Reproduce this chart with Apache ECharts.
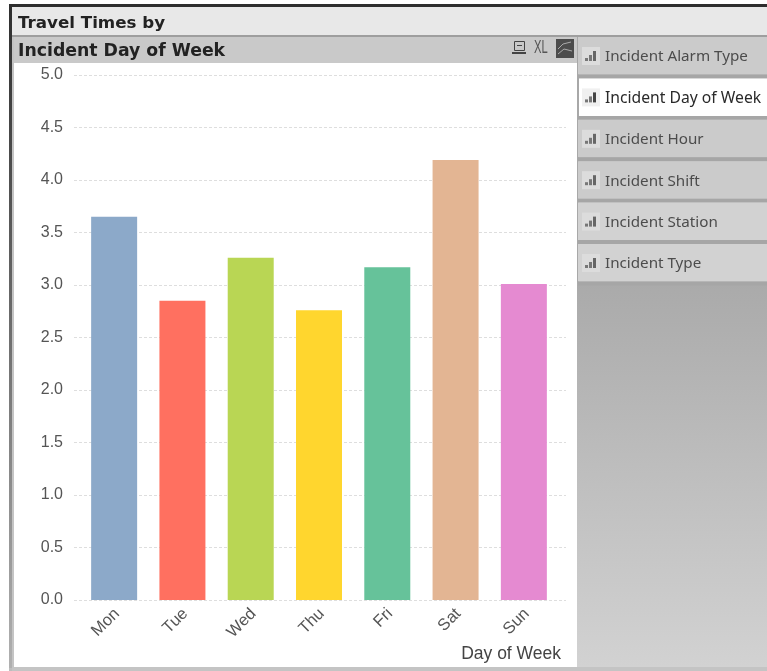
<!DOCTYPE html>
<html>
<head>
<meta charset="utf-8">
<style>html,body{margin:0;padding:0;background:#fff}#chart{width:767px;height:671px}</style>
<script src="https://cdn.jsdelivr.net/npm/echarts@6/dist/echarts.min.js"></script>
</head>
<body>
<div id="chart"></div>
<script>
// Travel times per weekday
const days = ['Mon', 'Tue', 'Wed', 'Thu', 'Fri', 'Sat', 'Sun'];
const travelTimes = [3.65, 2.85, 3.26, 2.76, 3.17, 4.19, 3.01];
const barColors = ['#8ca9c9', '#ff7060', '#b9d654', '#ffd62e', '#66c29a', '#e3b593', '#e58ad1'];
const tabNames = ['Incident Alarm Type', 'Incident Day of Week', 'Incident Hour', 'Incident Shift', 'Incident Station', 'Incident Type'];
const activeTab = 'Incident Day of Week';
const panelTitle = 'Travel Times by';
const chartTitle = 'Incident Day of Week';
const xAxisTitle = 'Day of Week';

const uiFont = '"Noto Sans", sans-serif';
const titleFont = '"DejaVu Sans", sans-serif';
const chartFont = '"Liberation Sans", sans-serif';

function rect(x, y, width, height, fill, z) {
  return { type: 'rect', silent: true, z: z || 0, shape: { x, y, width, height }, style: { fill } };
}
function vertical(top, bottom) {
  return { type: 'linear', x: 0, y: 0, x2: 0, y2: 1, colorStops: [{ offset: 0, color: top }, { offset: 1, color: bottom }] };
}
function label(text, x, y, fontSize, fontWeight, fill, fontFamily) {
  return { type: 'text', silent: true, z: 5, x, y, style: { text, fontSize, fontWeight, fill, fontFamily: fontFamily || uiFont, verticalAlign: 'middle' } };
}
// Small bar-chart glyph shown at the left of each selector tab
function tabIcon(x, cy, active) {
  const c = active ? '#444' : '#666';
  return [
    rect(x - 2, cy - 9, 18, 18, active ? '#f0f0f0' : '#dcdcdc', 3),
    rect(x + 1, cy + 2, 3, 3, '#777', 4),
    rect(x + 5, cy - 1, 3, 6, '#777', 4),
    rect(x + 9, cy - 5, 3, 10, c, 4)
  ];
}

const chrome = [
  rect(9, 4, 758, 667, '#bdbdbd'),
  { type: 'rect', silent: true, z: 1, shape: { x: 9, y: 4, width: 3, height: 664 }, style: { fill: vertical('#2e2e2e', '#b0b0b0') } },
  rect(9, 4, 758, 3, '#2e2e2e', 1),
  rect(12, 7, 755, 28, '#e8e8e8', 1),
  rect(12, 35, 755, 2, '#9e9e9e', 1),
  rect(12, 37, 2, 631, '#c4c4c4', 1),
  rect(14, 37, 563, 26, '#c9c9c9', 1),
  rect(14, 63, 563, 604, '#ffffff', 1),
  rect(12, 667, 755, 4, '#c4c4c4', 1),
  { type: 'rect', silent: true, z: 1, shape: { x: 577, y: 282, width: 190, height: 385 }, style: { fill: vertical('#aaaaaa', '#d2d2d2') } },
  rect(577, 37, 2, 245, '#a8a8a8', 1),
  label(panelTitle, 18, 24, 16.7, 'bold', '#222', titleFont),
  label(chartTitle, 18, 52, 17.3, 'bold', '#222', titleFont),
  // Toolbar: print, XL, chart toggle
  { type: 'rect', silent: true, z: 4, shape: { x: 514.5, y: 41.5, width: 10, height: 9 }, style: { fill: 'none', stroke: '#444', lineWidth: 1 } },
  rect(517, 45, 5, 1, '#444', 4),
  rect(512, 52, 14, 2, '#444', 4),
  { type: 'text', silent: true, z: 5, x: 534, y: 48, scaleX: 0.8, scaleY: 1.25, style: { text: 'XL', fontSize: 14, fill: '#555', fontFamily: chartFont, verticalAlign: 'middle' } },
  rect(556, 39, 18, 19, '#4c4c4c', 4),
  { type: 'polyline', silent: true, z: 5, shape: { points: [[558, 49], [563, 44], [571, 42]] }, style: { fill: 'none', stroke: '#aaa', lineWidth: 1 } },
  { type: 'polyline', silent: true, z: 5, shape: { points: [[558, 54], [564, 49], [572, 51]] }, style: { fill: 'none', stroke: '#aaa', lineWidth: 1 } }
];

// Selector tabs are stacked down the right-hand side
tabNames.forEach((name, i) => {
  const top = 37 + i * 41.4;
  const active = name === activeTab;
  chrome.push(rect(active ? 579 : 578, top, 190, 37.5, active ? '#ffffff' : (i < 4 ? '#cbcbcb' : '#d2d2d2'), 2));
  chrome.push(rect(578, top + 37.5, 190, 3.9, '#a6a6a6', 2));
  chrome.push(...tabIcon(584, top + 19, active));
  chrome.push(label(name, 605, top + 20, active ? 15.7 : 15.2, 'normal', active ? '#2a2a2a' : '#4c4c4c'));
});

const chart = echarts.init(document.getElementById('chart'), null, { renderer: 'canvas' });
chart.setOption({
  animation: false,
  backgroundColor: '#fff',
  graphic: chrome,
  // Outer grid carries the value labels and the dashed rules; inner grid carries the bars
  grid: [
    { left: 74, top: 75, width: 492, height: 525 },
    { left: 80, top: 75, width: 478, height: 525 }
  ],
  xAxis: [
    { gridIndex: 0, type: 'category', data: days, show: false },
    {
      gridIndex: 1, type: 'category', data: days, z: 6,
      axisLine: { show: false }, axisTick: { show: false },
      axisLabel: { rotate: 45, margin: 14, fontSize: 16.5, color: '#555', fontFamily: chartFont, padding: [0, -4, 0, 0] }
    }
  ],
  yAxis: [
    {
      gridIndex: 0, type: 'value', min: 0, max: 5, interval: 0.5, z: 3,
      axisLine: { show: false }, axisTick: { show: false },
      axisLabel: { margin: 11, fontSize: 16, color: '#555', fontFamily: chartFont, padding: [4, 0, 0, 0], formatter: v => v.toFixed(1) },
      splitLine: { show: true, lineStyle: { color: '#dedede', type: [3, 2], width: 1 } }
    },
    { gridIndex: 1, type: 'value', min: 0, max: 5, interval: 0.5, show: false, splitLine: { show: false } }
  ],
  series: [
    {
      type: 'bar', xAxisIndex: 1, yAxisIndex: 1, z: 4, barWidth: 46,
      data: travelTimes.map((value, i) => ({ value, itemStyle: { color: barColors[i] } }))
    },
    { type: 'bar', xAxisIndex: 0, yAxisIndex: 0, data: [], silent: true }
  ],
  title: {
    text: xAxisTitle, right: 206, top: 645, padding: 0,
    textStyle: { fontSize: 17.5, fontWeight: 'normal', color: '#444', fontFamily: chartFont }
  }
});
</script>
</body>
</html>
